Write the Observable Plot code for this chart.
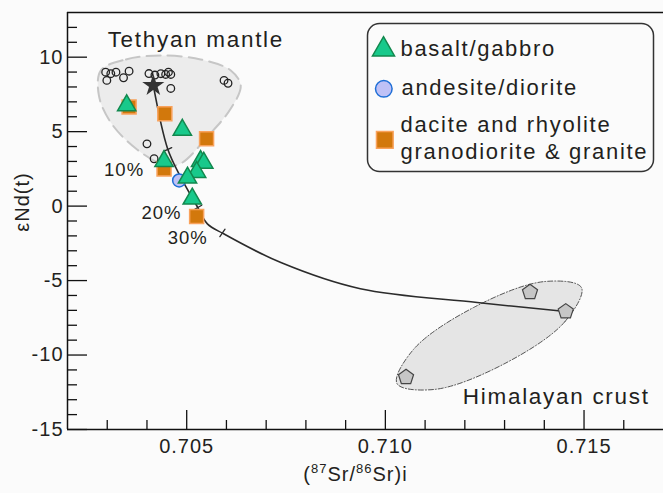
<!DOCTYPE html>
<html><head><meta charset="utf-8">
<script src="https://cdn.jsdelivr.net/npm/d3@7"></script>
<script src="https://cdn.jsdelivr.net/npm/@observablehq/plot@0.6"></script>
<style>
body{margin:0;background:#fbfbfb;}
svg text{letter-spacing:1px;}
</style></head><body><div id="chart"></div>
<script>
// ---- axes ----
const xDomain = [0.702, 0.717];
const yDomain = [-15, 13];
const xMajor = [0.705, 0.710, 0.715];
const xMinor = [0.703, 0.704, 0.706, 0.707, 0.708, 0.709, 0.711, 0.712, 0.713, 0.714, 0.716];
const yMajor = [-15, -10, -5, 0, 5, 10];
const yMinor = [-14,-13,-12,-11,-9,-8,-7,-6,-4,-3,-2,-1,1,2,3,4,6,7,8,9,11,12];

// ---- Tethyan mantle (open circles) ----
const mantleSr = [0.70296,0.70309,0.70322,0.70341,0.70355,0.70299,0.70405,0.70420,0.70435,0.70447,0.70454,0.70460,0.70460,0.70594,0.70604,0.70400,0.70418];
const mantleNd = [8.99,8.89,8.99,8.62,9.06,8.44,8.90,8.80,8.89,8.84,8.99,8.84,7.90,8.44,8.25,4.18,3.18];
const starSr = [0.70416];
const starNd = [8.10];

// ---- Himalayan crust (pentagons) ----
const crustSr = [0.71364, 0.71454, 0.71052];
const crustNd = [-5.78, -7.08, -11.49];

// ---- samples ----
const basaltSr = [0.70349,0.70489,0.70443,0.70535,0.70543,0.70525,0.70502,0.70514];
const basaltNd = [6.76,5.12,3.02,3.02,2.90,2.28,1.90,0.49];
const andesiteSr = [0.70481];
const andesiteNd = [1.72];
const daciteSr = [0.70355,0.70445,0.70550,0.70443,0.70525];
const daciteNd = [6.66,6.20,4.52,2.50,-0.70];

// ---- mixing curve ----
const mixSr = [0.70416,0.70452,0.70485,0.70525,0.70552,0.70593,0.70737,0.70937,0.71231,0.71454];
const mixNd = [8.10,3.85,1.94,0.04,-1.19,-1.86,-3.79,-5.55,-6.47,-7.08];
const mixTickSr = [0.70452, 0.70528, 0.70590];
const mixTickNd = [3.80, -0.09, -1.80];
const mixTickAngle = [65, 60, 35];
const mixLabels = ["10%", "20%", "30%"];
const mixLabelSr = [0.70292, 0.70386, 0.70452];
const mixLabelNd = [2.45, -0.46, -2.12];

// ---- field outlines ----
const tethysSr = [0.70284,0.70347,0.70435,0.70535,0.70611,0.70636,0.70611,0.70555,0.70485,0.70447,0.70372,0.70309,0.70279];
const tethysNd = [9.11,9.85,10.11,9.85,9.11,8.10,6.55,4.74,2.86,2.73,3.87,5.61,7.43];
const crustFieldSr = [0.714935,0.714518,0.712985,0.711234,0.710291,0.710709,0.712241,0.713992];
const crustFieldNd = [-5.47,-7.76,-10.60,-12.31,-11.91,-9.62,-6.78,-5.07];

const fieldLabels = ["Tethyan mantle", "Himalayan crust"];
const fieldLabelSr = [0.70301, 0.71195];
const fieldLabelNd = [11.17, -12.83];

const legendLabels = ["basalt/gabbro", "andesite/diorite", "dacite and rhyolite\ngranodiorite & granite"];

const zip = (a, b) => a.map((v, i) => ({sr: v, nd: b[i]}));
const mantle = zip(mantleSr, mantleNd);
const star = zip(starSr, starNd);
const crust = zip(crustSr, crustNd);
const basalt = zip(basaltSr, basaltNd);
const andesite = zip(andesiteSr, andesiteNd);
const dacite = zip(daciteSr, daciteNd);
const mix = zip(mixSr, mixNd);
const mixTicks = mixTickSr.map((v, i) => ({sr: v, nd: mixTickNd[i], a: mixTickAngle[i]}));
const mixLab = mixLabels.map((t, i) => ({t, sr: mixLabelSr[i], nd: mixLabelNd[i]}));
const tethys = zip(tethysSr, tethysNd);
const crustField = zip(crustFieldSr, crustFieldNd);
const fieldLab = fieldLabels.map((t, i) => ({t, sr: fieldLabelSr[i], nd: fieldLabelNd[i]}));

const pentagon = {draw(ctx, size) {
  const R = Math.sqrt(size / (2.5 * Math.sin(2 * Math.PI / 5)));
  for (let i = 0; i < 5; i++) {
    const a = -Math.PI / 2 + i * 2 * Math.PI / 5;
    const px = R * Math.cos(a), py = R * Math.sin(a);
    if (i === 0) ctx.moveTo(px, py); else ctx.lineTo(px, py);
  }
  ctx.closePath();
}};
const tickShape = {draw(ctx, l) { ctx.moveTo(0, 0); ctx.lineTo(0, -l); }};

const W = 663, H = 493, mL = 67, mR = 0, mT = 12, mB = 64;
const fw = W - mL - mR, fh = H - mT - mB;
const ink = "#231f20";
const font = "'Liberation Sans', Arial, sans-serif";

const greenFill = "#18c98b", greenStroke = "#12884e";
const orangeFill = "#d2780c", orangeStroke = "#f9a25c";
const blueFill = "#bfc1f6", blueStroke = "#1f6fd6";

const chart = Plot.plot({
  width: W, height: H,
  marginLeft: mL, marginRight: mR, marginTop: mT, marginBottom: mB,
  x: {domain: xDomain, axis: null},
  y: {domain: yDomain, axis: null},
  style: {background: "#fbfbfb", fontFamily: font, color: ink, overflow: "visible"},
  marks: [
    Plot.line(tethys, {x: "sr", y: "nd", curve: "catmull-rom-closed", fill: "#ececec", stroke: "#c6c6c6", strokeWidth: 2, strokeDasharray: "14,7"}),
    Plot.line(crustField, {x: "sr", y: "nd", curve: "catmull-rom-closed", fill: "#e5e5e5", stroke: "#555", strokeWidth: 1, strokeDasharray: "5,2,1,2"}),
    Plot.line(mix, {x: "sr", y: "nd", curve: "catmull-rom", stroke: "#2b2b2b", strokeWidth: 1.6}),
    Plot.vector(mixTicks, {x: "sr", y: "nd", rotate: "a", length: 9, anchor: "middle", shape: tickShape, stroke: "#2b2b2b", strokeWidth: 1.3}),
    Plot.dot(mantle, {x: "sr", y: "nd", r: 3.8, stroke: "#222", fill: "none", strokeWidth: 1.3}),
    Plot.dot(star, {x: "sr", y: "nd", symbol: "star", r: 5.5, fill: "#333", stroke: "#333"}),
    Plot.dot(crust, {x: "sr", y: "nd", symbol: pentagon, r: 6.9, fill: "#c6c6c6", stroke: "#444", strokeWidth: 1.2}),
    Plot.dot(dacite, {x: "sr", y: "nd", symbol: "square", r: 7.9, fill: orangeFill, stroke: orangeStroke, strokeWidth: 1.5}),
    Plot.dot(andesite, {x: "sr", y: "nd", r: 6.5, fill: blueFill, stroke: blueStroke, strokeWidth: 1.5}),
    Plot.dot(basalt, {x: "sr", y: "nd", symbol: "triangle", r: 6.8, fill: greenFill, stroke: greenStroke, strokeWidth: 1.5}),
    Plot.text(mixLab, {x: "sr", y: "nd", text: "t", textAnchor: "start", lineAnchor: "middle", fontSize: 18.5, fill: ink}),
    Plot.text(fieldLab, {x: "sr", y: "nd", text: "t", textAnchor: "start", lineAnchor: "middle", fontSize: 22.5, fill: ink, className: "wide"}),
    // legend
    Plot.frame({insetLeft: 300, insetTop: 11, insetRight: 10, insetBottom: 258, rx: 12, stroke: "#333", strokeWidth: 1.5, fill: "#fbfbfb"}),
    Plot.dot([0], {frameAnchor: "top-left", dx: 316, dy: 37, symbol: "triangle", r: 8.2, fill: greenFill, stroke: greenStroke, strokeWidth: 1.5}),
    Plot.dot([0], {frameAnchor: "top-left", dx: 316.3, dy: 76.3, r: 8.3, fill: blueFill, stroke: blueStroke, strokeWidth: 1.5}),
    Plot.dot([0], {frameAnchor: "top-left", dx: 317.3, dy: 127.3, symbol: "square", r: 9.4, fill: orangeFill, stroke: orangeStroke, strokeWidth: 1.5}),
    Plot.text([legendLabels[0]], {frameAnchor: "top-left", dx: 333, dy: 36.7, textAnchor: "start", lineAnchor: "middle", fontSize: 22, fill: ink, className: "wide"}),
    Plot.text([legendLabels[1]], {frameAnchor: "top-left", dx: 334, dy: 75, textAnchor: "start", lineAnchor: "middle", fontSize: 22, fill: ink, className: "wide"}),
    Plot.text([legendLabels[2]], {frameAnchor: "top-left", dx: 333, dy: 124.4, textAnchor: "start", lineAnchor: "middle", lineHeight: 1.21, fontSize: 22, fill: ink, className: "wide"}),
    // frame lines
    Plot.ruleY([yDomain[1]], {stroke: "#111", strokeWidth: 1.5}),
    Plot.ruleY([yDomain[0]], {stroke: "#111", strokeWidth: 1.5}),
    Plot.ruleX([xDomain[0]], {stroke: "#111", strokeWidth: 1.5}),
    // inward ticks
    Plot.ruleX(xMajor, {stroke: "#111", strokeWidth: 1.3, insetTop: fh - 19}),
    Plot.ruleX(xMinor, {stroke: "#111", strokeWidth: 1.3, insetTop: fh - 9}),
    Plot.ruleY(yMajor, {stroke: "#111", strokeWidth: 1.3, insetRight: fw - 20}),
    Plot.ruleY(yMinor, {stroke: "#111", strokeWidth: 1.3, insetRight: fw - 10}),
    Plot.axisX(xMajor, {tickSize: 0, tickPadding: 9, fontSize: 20, label: null, tickFormat: d3.format(".3f"), fill: ink}),
    Plot.axisY(yMajor, {tickSize: 0, tickPadding: 4, fontSize: 20, label: null, tickFormat: d => String(d), fill: ink}),
    Plot.text(["(87Sr/86Sr)i"], {frameAnchor: "bottom", dx: -10, dy: 45, lineAnchor: "middle", textAnchor: "middle", fontSize: 20, fill: ink}),
    Plot.text(["εNd(t)"], {frameAnchor: "left", dx: -45, dy: -19, rotate: -90, lineAnchor: "middle", textAnchor: "middle", fontSize: 20, fill: ink})
  ]
});
document.getElementById("chart").appendChild(chart);
chart.querySelectorAll(".wide text").forEach(t => t.style.letterSpacing = "1.7px");

// superscripts in the x-axis title
const ns = "http://www.w3.org/2000/svg";
const xt = Array.from(chart.querySelectorAll("text")).find(t => t.textContent === "(87Sr/86Sr)i");
if (xt) {
  xt.textContent = "";
  const parts = [["(", 0], ["87", 1], ["Sr/", 0], ["86", 1], ["Sr)i", 0]];
  let prev = 0;
  for (const [s, sup] of parts) {
    const ts = document.createElementNS(ns, "tspan");
    ts.textContent = s;
    if (sup) ts.setAttribute("font-size", "13");
    ts.setAttribute("dy", sup && !prev ? "-8" : (!sup && prev ? "8" : "0"));
    prev = sup;
    xt.appendChild(ts);
  }
}
</script></body></html>
